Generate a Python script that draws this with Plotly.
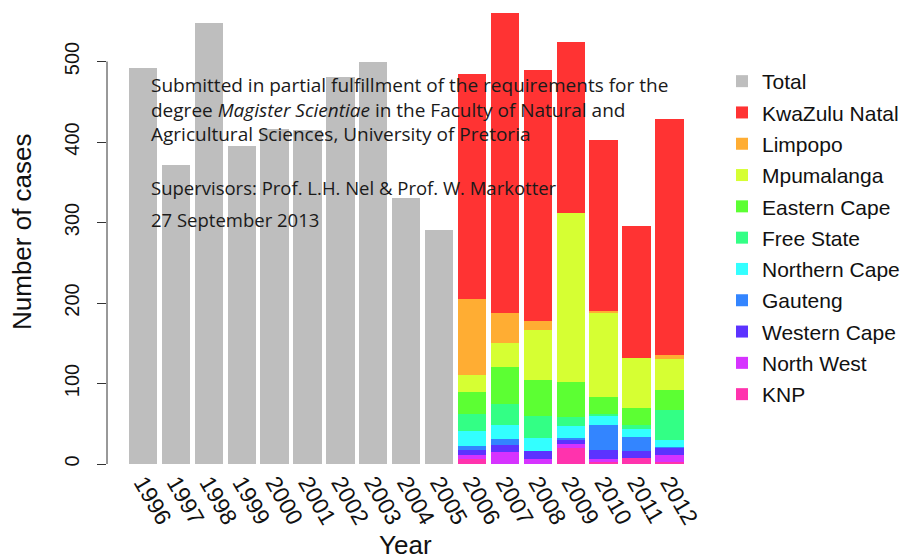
import plotly.graph_objects as go

# Rabies cases per year: national totals (1996-2005), then per province (2006-2012)
years = [str(y) for y in range(1996, 2013)]
total_years = years[:10]
total_cases = [492, 371, 548, 395, 416, 415, 481, 499, 330, 291]

prov_years = years[10:]
knp = [6, 0, 0, 20, 2, 8, 2]
north_west = [5, 15, 6, 5, 4, 0, 9]
western_cape = [6, 9, 10, 5, 11, 8, 9]
gauteng = [5, 7, 0, 2, 32, 17, 1]
northern_cape = [19, 17, 16, 15, 11, 11, 9]
free_state = [21, 26, 28, 12, 2, 4, 37]
eastern_cape = [27, 47, 44, 43, 21, 21, 25]
mpumalanga = [22, 29, 63, 210, 104, 63, 38]
limpopo = [94, 38, 11, 0, 3, 0, 6]
kwazulu_natal = [280, 372, 311, 212, 212, 164, 292]

# stacking order, bottom to top
series = [
    ("KNP", knp, "#FF33AD"),
    ("North West", north_west, "#D633FF"),
    ("Western Cape", western_cape, "#5C33FF"),
    ("Gauteng", gauteng, "#3385FF"),
    ("Northern Cape", northern_cape, "#33FFFF"),
    ("Free State", free_state, "#33FF85"),
    ("Eastern Cape", eastern_cape, "#5CFF33"),
    ("Mpumalanga", mpumalanga, "#D6FF33"),
    ("Limpopo", limpopo, "#FFAD33"),
    ("KwaZulu Natal", kwazulu_natal, "#FF3333"),
]
total_color = "#BEBEBE"

W, H = 902, 559
ML, MR, MT, MB = 107, 202, 5, 95
PW, PH = W - ML - MR, H - MT - MB


def fx(p):
    return (p - ML) / PW


def fy(p):
    return (H - MB - p) / PH


fig = go.Figure()

fig.add_trace(go.Bar(x=total_years, y=total_cases, marker=dict(color=total_color, line=dict(width=0)),
                     showlegend=False, name="Total"))
for name, vals, col in series:
    fig.add_trace(go.Bar(x=prov_years, y=vals, marker=dict(color=col, line=dict(width=0)),
                         showlegend=False, name=name))

# legend entries (square keys), listed top to bottom
legend_items = [("Total", total_color)] + [(n, c) for n, _, c in reversed(series)]
for name, col in legend_items:
    fig.add_trace(go.Scatter(x=[None], y=[None], mode="markers", name=name, legendgroup=name,
                             marker=dict(symbol="square", size=18, color=col)))

font_main = "Liberation Sans, Arial, sans-serif"
font_note = "Open Sans, sans-serif"

# title-page note: a three-line block, then supervisors and date
note_block = ("Submitted in partial fulfillment of the requirements for the<br>"
              "degree <i>Magister Scientiae</i> in the Faculty of Natural and<br>"
              "Agricultural Sciences, University of Pretoria")
note_lines = [
    (note_block, 110, 19),
    ("Supervisors: Prof. L.H. Nel &amp; Prof. W. Markotter", 187, 18.5),
    ("27 September 2013", 219, 18.5),
]
annotations = []
for txt, ymid, size in note_lines:
    annotations.append(dict(text=txt, x=fx(149), y=fy(ymid), xref="paper", yref="paper",
                            xanchor="left", yanchor="middle", align="left", showarrow=False,
                            font=dict(family=font_note, size=size, color="#1a1a1a")))

annotations.append(dict(text="Number of cases", textangle=-90, x=fx(22), y=fy(232),
                        xref="paper", yref="paper", xanchor="center", yanchor="middle",
                        showarrow=False, font=dict(family=font_main, size=26, color="#111")))
annotations.append(dict(text="Year", x=fx(405), y=fy(545), xref="paper", yref="paper",
                        xanchor="center", yanchor="middle", showarrow=False,
                        font=dict(family=font_main, size=26, color="#111")))

fig.update_layout(
    width=W, height=H,
    margin=dict(l=ML, r=MR, t=MT, b=MB, autoexpand=False),
    paper_bgcolor="white", plot_bgcolor="white",
    barmode="stack", bargap=0.14,
    font=dict(family=font_main, color="#111"),
    annotations=annotations,
    legend=dict(x=fx(722), y=fy(61), xanchor="left", yanchor="top",
                font=dict(family=font_main, size=21, color="#111"),
                bgcolor="rgba(0,0,0,0)", traceorder="grouped", tracegroupgap=1,
                itemsizing="constant"),
    shapes=[dict(type="line", xref="paper", yref="y", x0=0, x1=0, y0=0, y1=500,
                 line=dict(color="#333", width=1))],
)
fig.update_xaxes(type="category", categoryorder="array", categoryarray=years,
                 range=[-1.094, 16.93], showline=False, showgrid=False, zeroline=False,
                 ticks="", tickangle=60, tickfont=dict(family=font_main, size=23, color="#111"))
fig.update_yaxes(range=[0, PH / 0.805], showline=False, showgrid=False, zeroline=False,
                 tickvals=[0, 100, 200, 300, 400, 500], ticks="outside", ticklen=9,
                 tickcolor="#333", tickwidth=1, tickangle=-90, ticklabelstandoff=10,
                 tickfont=dict(family=font_main, size=20, color="#111"))

fig.write_html("out.html")
